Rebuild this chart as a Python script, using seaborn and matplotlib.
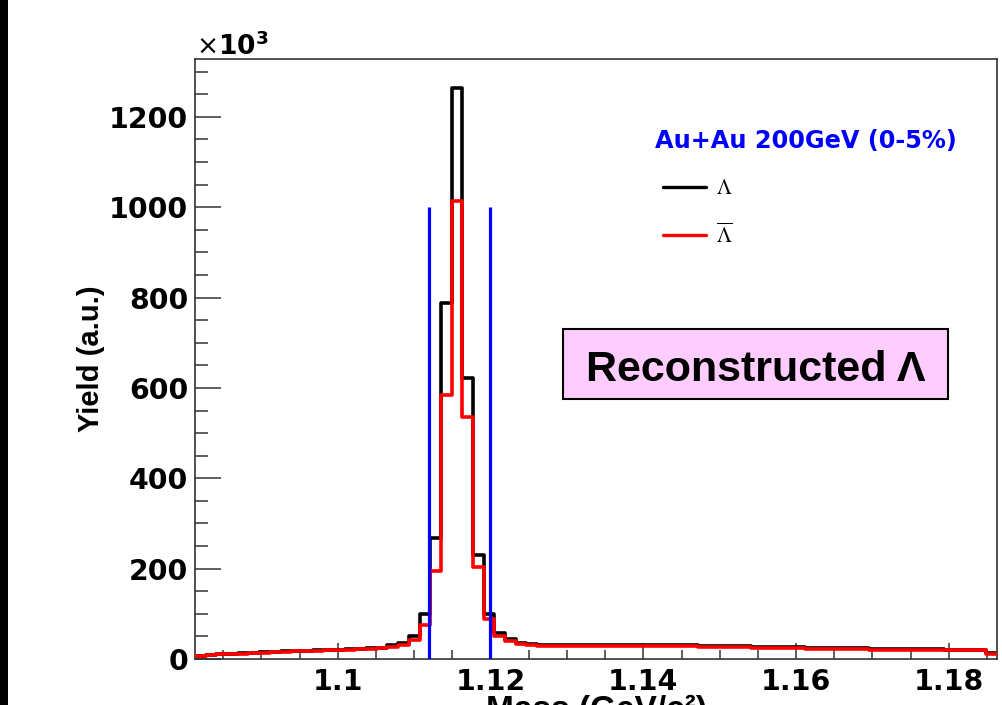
import numpy as np
import pandas as pd
import matplotlib
matplotlib.use("Agg")
import matplotlib.pyplot as plt
import seaborn as sns
from matplotlib import font_manager
from matplotlib.lines import Line2D
from matplotlib.patches import Rectangle
from matplotlib.ticker import MultipleLocator, FixedLocator

# ---------------- data (yield in units of 10^3) ----------------
bin_width = 0.0014
first_edge = 1.0813

lambda_counts = [7, 9, 11, 12, 13, 14, 15, 16, 17, 18, 18, 19, 20, 21, 22, 23, 24, 25,
                 30, 35, 50, 100, 268, 788, 1264, 621, 230, 100, 57, 44, 36, 33, 31,
                 30, 30, 30, 30, 31, 31, 31, 31, 31, 31, 31, 30, 30, 30, 29, 29, 29,
                 28, 28, 27, 27, 26, 26, 26, 25, 25, 25, 24, 24, 24, 23, 23, 23, 22,
                 22, 22, 22, 21, 21, 21, 21, 13]
antilambda_counts = [6, 8, 10, 11, 12, 13, 14, 15, 16, 17, 17, 18, 19, 20, 21, 22, 23, 24,
                     27, 31, 43, 75, 195, 584, 1014, 536, 203, 88, 51, 40, 33, 31, 29,
                     28, 28, 28, 28, 29, 29, 29, 29, 29, 29, 29, 28, 28, 28, 27, 27, 27,
                     26, 26, 25, 25, 24, 24, 24, 23, 23, 23, 22, 22, 22, 21, 21, 21, 20,
                     20, 20, 20, 19, 19, 19, 19, 11]

cut_positions = [1.1119, 1.1199]
cut_height = 1000

x_ticks = [1.10, 1.12, 1.14, 1.16, 1.18]
x_tick_labels = ["1.1", "1.12", "1.14", "1.16", "1.18"]
y_ticks = [0, 200, 400, 600, 800, 1000, 1200]
y_tick_labels = ["0", "200", "400", "600", "800", "1000", "1200"]

legend_labels = [r"$\Lambda$", r"$\overline{\Lambda}$"]
system_label = "Au+Au 200GeV (0-5%)"
box_label = "Reconstructed Λ"
x_title = "Mass (GeV/c²)"
y_title = "Yield (a.u.)"

# ---------------- setup ----------------
n_bins = len(lambda_counts)
edges = [float(e) for e in first_edge + bin_width * np.arange(n_bins + 1)]
centers = [0.5 * (edges[i] + edges[i + 1]) for i in range(n_bins)]
df = pd.DataFrame({
    "mass": centers + centers,
    "yield": lambda_counts + antilambda_counts,
    "species": ["Lambda"] * n_bins + ["AntiLambda"] * n_bins,
})

sns.set_style("white")
plt.rcParams["font.family"] = ["DejaVu Sans"]
plt.rcParams.update({"text.color": "black", "axes.labelcolor": "black",
                     "xtick.color": "black", "ytick.color": "black"})

available = {f.name for f in font_manager.fontManager.ttflist}
narrow = "Liberation Sans Narrow" if "Liberation Sans Narrow" in available else "Liberation Sans"

W, H = 1002, 705
fig = plt.figure(figsize=(W / 100, H / 100), dpi=100)
fig.patch.set_facecolor("white")

# black strip at the left edge
fig.patches.append(Rectangle((0, 0), 8 / W, 1, transform=fig.transFigure,
                             facecolor="black", edgecolor="none", zorder=0))

ax = fig.add_axes([195 / W, 1 - 659 / H, (997 - 195) / W, (659 - 59) / H])

sns.histplot(data=df[df.species == "Lambda"], x="mass", weights="yield", bins=edges,
             element="step", fill=False, color="black", linewidth=2.6, ax=ax, zorder=2)
sns.histplot(data=df[df.species == "AntiLambda"], x="mass", weights="yield", bins=edges,
             element="step", fill=False, color="#ff0000", linewidth=2.6, ax=ax, zorder=3)

ax.vlines(cut_positions, 0, cut_height, colors="#0000ff", linewidth=2.3, zorder=4)

ax.set_xlim(edges[0], edges[-1])
ax.set_ylim(0, 1328)

for s in ax.spines.values():
    s.set_linewidth(1.2)
    s.set_color("#333333")
    s.set_visible(True)

ax.xaxis.set_major_locator(FixedLocator(x_ticks))
ax.set_xticklabels(x_tick_labels)
ax.xaxis.set_minor_locator(MultipleLocator(0.005))
ax.yaxis.set_major_locator(FixedLocator(y_ticks))
ax.set_yticklabels(y_tick_labels)
ax.yaxis.set_minor_locator(MultipleLocator(50))

ax.tick_params(axis="both", which="both", direction="in", color="#333333", width=1.1,
               top=False, right=False, bottom=True, left=True,
               labelcolor="black")
ax.tick_params(axis="x", which="major", length=11.5, pad=6.5)
ax.tick_params(axis="x", which="minor", length=6.5)
ax.tick_params(axis="y", which="major", length=18.5, pad=5)
ax.tick_params(axis="y", which="minor", length=9.4)
for lab in ax.get_xticklabels() + ax.get_yticklabels():
    lab.set_fontsize(20.4)
    lab.set_fontweight("bold")
    lab.set_fontfamily("DejaVu Sans")
    lab.set_color("black")

ax.set_xlabel(x_title, fontsize=24, fontweight="bold", fontfamily="Liberation Sans",
              color="black")
ax.xaxis.set_label_coords(0.5, (659 - 695) / 600)
ax.set_ylabel(y_title, fontsize=21, fontweight="bold", fontfamily=narrow, color="black")
ax.yaxis.set_label_coords((105 - 195) / 802, 0.5)

# x10^3 multiplier
fig.text(196 / W, 1 - 55 / H, r"$\times\mathbf{10^{3}}$", fontsize=19, ha="left",
         va="baseline", color="black")

# system label
fig.text(655 / W, 1 - 148 / H, system_label, color="#0000ff", fontsize=17.3,
         fontweight="bold", ha="left", va="baseline")

# legend
handles = [Line2D([], [], color="black", linewidth=2.4),
           Line2D([], [], color="#ff0000", linewidth=2.4)]
leg = ax.legend(handles, legend_labels, loc="upper left",
                bbox_to_anchor=(662.7 / W, 1 - 178 / H), bbox_transform=fig.transFigure,
                frameon=False, fontsize=15, handlelength=2.1, handletextpad=0.45,
                labelspacing=1.15, borderpad=0, borderaxespad=0)
for t in leg.get_texts():
    t.set_math_fontfamily("stix")
    t.set_color("black")

# reconstructed box
fig.patches.append(Rectangle((563 / W, 1 - 399 / H), (948 - 563) / W, (399 - 329) / H,
                             transform=fig.transFigure, facecolor="#ffccff",
                             edgecolor="black", linewidth=1.5, zorder=5))
fig.text(585.5 / W, 1 - 381 / H, box_label, fontsize=31, fontweight="bold",
         fontfamily="Liberation Sans", ha="left", va="baseline", zorder=6, color="black")

fig.savefig("out.png", dpi=100, facecolor="white")
